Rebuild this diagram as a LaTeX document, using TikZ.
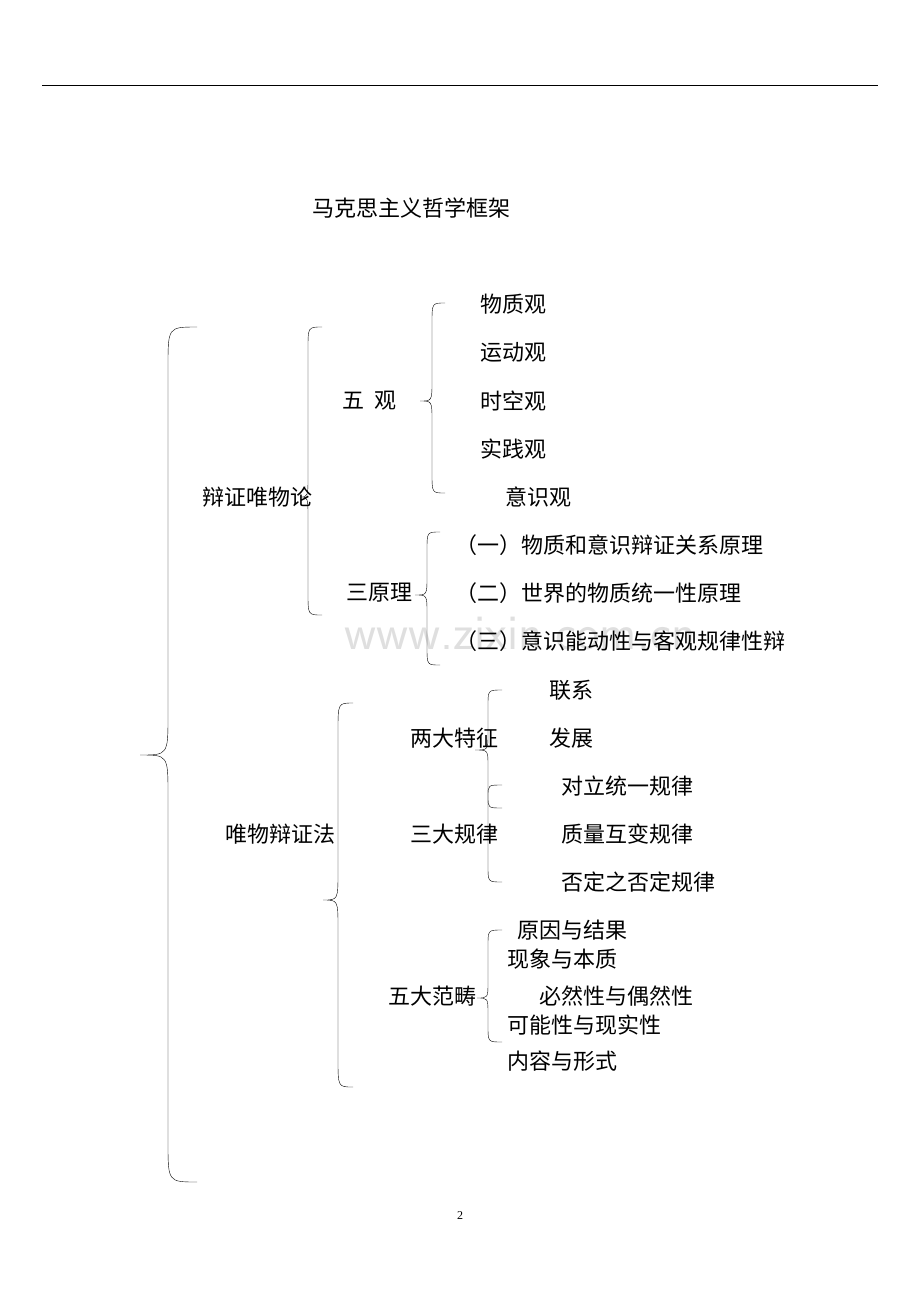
\documentclass[tikz,border=0pt]{standalone}
\usepackage{fontspec}
\setmainfont{Liberation Serif}
\newfontfamily\cjk{Noto Sans CJK SC}
\usepackage{tikz}

% left curly brace: end x, line x, tip x, top y, tip y, bottom y, radius
\newcommand{\lbr}[7]{%
  \draw (#1,#4) .. controls (#2,#4) .. (#2,#4+#7) -- (#2,#5-#7)
    .. controls (#2,#5) .. (#3,#5) .. controls (#2,#5) .. (#2,#5+#7)
    -- (#2,#6-#7) .. controls (#2,#6) .. (#1,#6);}

\tikzset{
  item/.style={anchor=west,inner sep=0pt,font=\cjk\fontsize{22}{22}\selectfont},
}

\begin{document}
\begin{tikzpicture}[x=1pt,y=-1pt]
\useasboundingbox (0,0) rectangle (920,1302);
% header rule and watermark
\draw (42,85) -- (878,85);
\node[text=gray!25,font=\sffamily\fontsize{50}{50}\selectfont] (wm) at (520,633) {www.zixin.com.cn};
% title
\node[item,anchor=center] (title) at (411,208) {马克思主义哲学框架};

% first level
\node[item] (bzwwl) at (202,497) {辩证唯物论};
\node[item] (wwbzf) at (225,834) {唯物辩证法};
\lbr{197}{168}{140}{327}{755}{1182}{40}

% five views
\node[item] (wg) at (342,401) {五\ \ 观};
\node[item] (wzg) at (480,304) {物质观};
\node[item] (ydg) at (480,352) {运动观};
\node[item] (skg) at (480,401) {时空观};
\node[item] (sjg) at (480,449) {实践观};
\node[item] (ysg) at (505,497) {意识观};
\lbr{322}{308}{300}{327}{497}{615}{22}
\lbr{445}{432}{420}{303}{401}{493}{20}

% three principles
\node[item] (syl) at (346,593) {三原理};
\node[item] (yl1) at (455,545) {（一）物质和意识辩证关系原理};
\node[item] (yl2) at (455,593) {（二）世界的物质统一性原理};
\node[item] (yl3) at (455,641) {（三）意识能动性与客观规律性辩};
\lbr{440}{427}{415}{532}{595}{665}{18}

% dialectics
\node[item] (ldtz) at (410,738) {两大特征};
\node[item] (lx) at (549,690) {联系};
\node[item] (fz) at (549,738) {发展};
\node[item] (sdgl) at (410,834) {三大规律};
\node[item] (gl1) at (561,786) {对立统一规律};
\node[item] (gl2) at (561,834) {质量互变规律};
\node[item] (gl3) at (561,882) {否定之否定规律};
\lbr{353}{338}{323}{703}{900}{1087}{28}
\lbr{502}{488}{475}{690}{750}{882}{16}
\draw (502,785) .. controls (488,785) .. (488,796.5) .. controls (488,808) .. (502,808);

% categories
\node[item] (wdfc) at (388,996) {五大范畴};
\node[item] (fc1) at (517,930) {原因与结果};
\node[item] (fc2) at (507,959) {现象与本质};
\node[item] (fc3) at (539,996) {必然性与偶然性};
\node[item] (fc4) at (507,1025) {可能性与现实性};
\node[item] (fc5) at (507,1061) {内容与形式};
\lbr{502}{488}{477}{930}{998}{1042}{16}

% page number
\node[font=\fontsize{12}{12}\selectfont] (pg) at (460,1216) {2};
\end{tikzpicture}
\end{document}
